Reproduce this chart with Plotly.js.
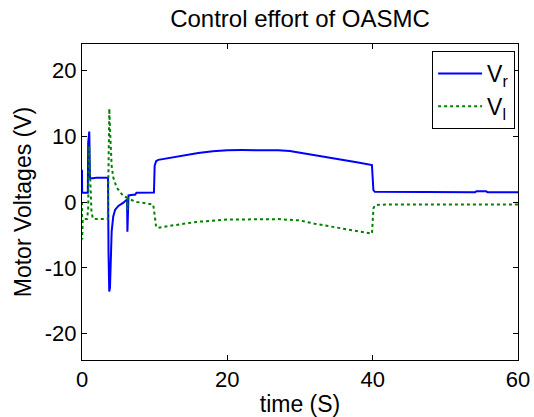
<!DOCTYPE html>
<html>
<head>
<meta charset="utf-8">
<script src="https://cdn.plot.ly/plotly-3.0.1.min.js"></script>
<style>html,body{margin:0;padding:0;background:#fff;}#chart{width:534px;height:417px;}</style>
</head>
<body>
<div id="chart"></div>
<script>
// Time (s) and voltage samples
const vrTime = [0, 0.02, 0.8, 0.85, 1.0, 1.05, 1.1, 1.5, 2.0, 3.55, 3.58, 3.65, 3.75, 3.85, 3.92, 4.0, 4.08, 4.3, 4.55, 5.0, 5.7, 6.2, 6.25, 6.3, 6.4, 7.0, 7.3, 7.5, 9.9, 10.0, 10.2, 10.5, 12, 14, 16, 18, 20, 22, 24, 27, 28.6, 30, 32, 34, 36, 38, 39.9, 40.0, 40.1, 40.3, 45, 54.1, 54.3, 55.6, 55.8, 60];
const vrVolt = [4.9, 1.4, 1.4, 9.0, 10.7, 4.0, 3.6, 3.6, 3.7, 3.7, 3.7, -7.7, -13.6, -13.0, -8.0, -7.5, -4.5, -2.2, -1.2, -0.6, -0.1, 0.4, -4.5, 0.5, 1.0, 1.1, 1.1, 1.4, 1.45, 5.5, 6.2, 6.4, 6.7, 7.05, 7.45, 7.7, 7.86, 7.88, 7.88, 7.86, 7.75, 7.5, 7.15, 6.75, 6.4, 6.0, 5.6, 3.0, 1.8, 1.55, 1.5, 1.5, 1.65, 1.65, 1.5, 1.5];

const vlTime = [0, 0.03, 0.1, 0.7, 0.85, 0.9, 1.0, 1.05, 1.15, 1.3, 1.5, 2.0, 3.55, 3.62, 3.7, 3.76, 3.85, 3.94, 4.08, 4.31, 4.77, 5.69, 6.22, 6.25, 6.3, 6.6, 7.5, 8.9, 9.8, 10.0, 10.2, 10.5, 12, 14, 16, 18, 20, 27, 28.6, 30, 32, 34, 36, 38, 39.9, 40.0, 40.1, 40.3, 41, 60];
const vlVolt = [0, -5.7, -2.6, -2.6, -1.0, 4.0, 8.5, 6.0, 1.0, -1.5, -2.5, -2.6, -2.6, 2.0, 12.0, 14.2, 11.1, 7.5, 5.5, 3.7, 2.2, 0.9, 0.65, -1.2, 0.6, 0.4, 0.0, -0.2, -0.4, -2.0, -3.8, -3.9, -3.6, -3.3, -3.0, -2.8, -2.67, -2.6, -2.65, -2.8, -3.3, -3.7, -4.1, -4.5, -4.8, -3.0, -1.0, -0.5, -0.4, -0.38];

const seriesNames = ['V<sub>r</sub>', 'V<sub>l</sub>'];
const xTicks = [0, 20, 40, 60];
const yTicks = [-20, -10, 0, 10, 20];

const FONT = 'Liberation Sans, Arial, Helvetica, sans-serif';

const traces = [
  {x: vrTime, y: vrVolt, name: seriesNames[0], type: 'scatter', mode: 'lines',
   line: {color: '#0000ff', width: 2}, legendgroup: 'a'},
  {x: vlTime, y: vlVolt, name: seriesNames[1], type: 'scatter', mode: 'lines',
   line: {color: '#008000', width: 2, dash: 'dot'}, legendgroup: 'b'}
];

const axisCommon = {
  showgrid: false, zeroline: false, showline: true, linecolor: '#000', linewidth: 1,
  mirror: 'ticks', ticks: 'inside', ticklen: 5, tickcolor: '#000', tickwidth: 1,
  tickfont: {family: FONT, size: 22, color: '#000'}
};

const layout = {
  width: 534, height: 417,
  margin: {l: 82, r: 16, t: 44, b: 57, pad: 0},
  paper_bgcolor: '#fff', plot_bgcolor: '#fff',
  font: {family: FONT, color: '#000'},
  title: {text: 'Control effort of OASMC', font: {family: FONT, size: 24, color: '#000'},
          x: 0.5, xref: 'paper', y: 0.955, yref: 'container', yanchor: 'middle'},
  xaxis: Object.assign({}, axisCommon, {range: [0, 60], tickvals: xTicks, ticktext: xTicks.map(String),
          title: {text: 'time (S)', font: {family: FONT, size: 23, color: '#000'}, standoff: 4}}),
  yaxis: Object.assign({}, axisCommon, {range: [-24, 24], tickvals: yTicks, ticktext: yTicks.map(String),
          title: {text: 'Motor Voltages (V)', font: {family: FONT, size: 23, color: '#000'}, standoff: 6}}),
  showlegend: true,
  legend: {x: 0.803, y: 0.978, xanchor: 'left', yanchor: 'top', bgcolor: '#fff',
           bordercolor: '#000', borderwidth: 1, font: {family: FONT, size: 23, color: '#000'},
           tracegroupgap: 11, traceorder: 'normal', itemwidth: 44}
};

Plotly.newPlot('chart', traces, layout, {displayModeBar: false, staticPlot: true});
</script>
</body>
</html>
